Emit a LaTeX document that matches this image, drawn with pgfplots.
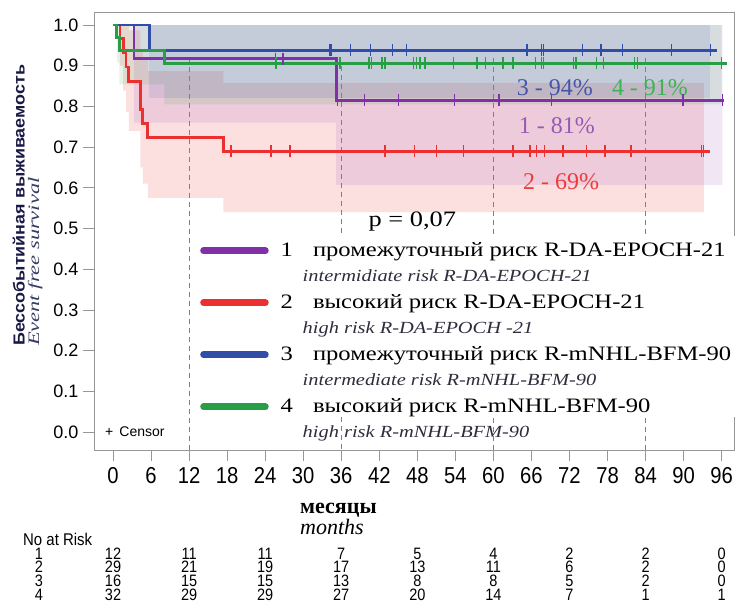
\documentclass[border=0pt]{standalone}
\usepackage{pgfplots}
\usepackage{pgfplotstable}
\pgfplotsset{compat=1.18}
\usepackage{fontspec}
\setmainfont{Liberation Serif}
\newfontfamily\sansf{Liberation Sans}
\newfontfamily\sansn[FakeStretch=0.88]{Liberation Sans}
\newfontfamily\legf[FakeStretch=1.2]{Liberation Serif}
\newfontfamily\ylbf[FakeStretch=1.12]{Liberation Sans}
\newfontfamily\ylit[FakeStretch=1.4]{Liberation Serif}
\definecolor{cPur}{RGB}{128,48,168}
\definecolor{cRed}{RGB}{236,48,48}
\definecolor{cBlu}{RGB}{48,78,168}
\definecolor{cGrn}{RGB}{40,158,70}
\definecolor{tPur}{RGB}{150,90,180}
\definecolor{tRed}{RGB}{236,60,60}
\definecolor{tBlu}{RGB}{70,85,170}
\definecolor{tGrn}{RGB}{60,180,85}
\definecolor{frm}{RGB}{150,150,150}
\definecolor{itc}{RGB}{45,45,60}
\definecolor{ylc}{RGB}{25,25,70}
\definecolor{ylic}{RGB}{55,60,100}

\pgfplotstableread{
x y n
-11.67 -0.300 1
-11.67 -0.332 2
-11.67 -0.366 3
-11.67 -0.400 4
0  -0.300 12
12 -0.300 11
24 -0.300 11
36 -0.300 7
48 -0.300 5
60 -0.300 4
72 -0.300 2
84 -0.300 2
96 -0.300 0
0  -0.332 29
12 -0.332 21
24 -0.332 19
36 -0.332 17
48 -0.332 13
60 -0.332 11
72 -0.332 6
84 -0.332 2
96 -0.332 0
0  -0.366 16
12 -0.366 15
24 -0.366 15
36 -0.366 13
48 -0.366 8
60 -0.366 8
72 -0.366 5
84 -0.366 2
96 -0.366 0
0  -0.400 32
12 -0.400 29
24 -0.400 29
36 -0.400 27
48 -0.400 20
60 -0.400 14
72 -0.400 7
84 -0.400 1
96 -0.400 1
}\risktab

\newcommand{\lgd}[3]{\begin{tabular}[t]{@{}l@{}}#1\hspace{20pt}#2\\\hspace{22pt}{\itshape\color{itc}\fontsize{17}{25}\selectfont #3}\end{tabular}}

\begin{document}
\begin{tikzpicture}[x=1pt,y=1pt]
\useasboundingbox (0,0) rectangle (740,605);
\begin{axis}[
  at={(94pt,155pt)}, anchor=south west,
  scale only axis, width=640pt, height=438pt,
  xmin=-3, xmax=97.95, ymin=-0.0442, ymax=1.032,
  clip=false,
  axis line style={frm, line width=0.8pt},
  tick style={frm, line width=0.8pt},
  tick align=outside, major tick length=11pt,
  xtick pos=lower, ytick pos=left,
  xtick={0,6,...,96},
  ytick={0,0.1,...,1.0},
  /pgf/number format/assume math mode=true,
  yticklabel={\pgfmathprintnumber[fixed,fixed zerofill,precision=1]{\tick}},
  xticklabel style={font=\sansn\fontsize{23}{23}\selectfont, yshift=-3pt},
  yticklabel style={font=\sansf\fontsize{18}{18}\selectfont, xshift=-1pt},
  xlabel={\begin{tabular}[t]{@{}l@{}}{\bfseries месяцы}\\{\itshape months}\end{tabular}},
  xlabel style={at={(rel axis cs:0.3219,-0.1119)}, anchor=north west, inner sep=0pt, font=\fontsize{22}{20}\selectfont},
  ylabel={\begin{tabular}[t]{@{}l@{}}{\ylbf\bfseries\color{ylc} Бессобытийная выживаемость}\\{\ylit\itshape\color{ylic} Event free survival}\end{tabular}},
  ylabel style={at={(rel axis cs:-0.1275,0.2374)}, anchor=north west, inner sep=0pt, font=\fontsize{16}{11}\selectfont},
  legend style={at={(axis cs:12.62,0.4816)}, anchor=north west, draw=none, fill=white,
    inner xsep=7pt, inner ysep=3pt, row sep=33pt, column sep=12pt,
    font=\legf\fontsize{20.5}{25}\selectfont,
    cells={anchor=base west}, nodes={inner sep=0pt}},
  legend image code/.code={\draw[#1, line width=6.5pt, line cap=round] (3pt,6pt) -- (65pt,6pt);},
]
% confidence bands
\addplot[forget plot, draw=none, fill=cRed, fill opacity=0.15] coordinates {
 (1.1,1) (2.5,1) (2.5,0.987) (4.3,0.987) (4.3,0.94) (4.7,0.94) (4.7,0.915) (5.5,0.915) (5.5,0.887) (17.4,0.887) (17.4,0.858) (93.2,0.858)
 (93.2,0.54) (17.4,0.54) (17.4,0.575) (5.5,0.575) (5.5,0.61) (4.7,0.61) (4.7,0.65) (4.3,0.65) (4.3,0.74) (2.5,0.74) (2.5,0.786) (2.05,0.786) (2.05,0.839) (1.6,0.839) (1.6,0.90) (1.1,0.90)} -- cycle;
\addplot[forget plot, draw=none, fill=cPur, fill opacity=0.12] coordinates {
 (3.3,1) (96.1,1) (96.1,0.607) (35.2,0.607) (35.2,0.76) (3.3,0.76)} -- cycle;
\addplot[forget plot, draw=none, fill=cGrn, fill opacity=0.12] coordinates {
 (0.6,1) (96.0,1) (96.0,0.805) (8.1,0.805) (8.1,0.854) (1.0,0.854) (1.0,0.908) (0.6,0.908)} -- cycle;
\addplot[forget plot, draw=none, fill=cBlu, fill opacity=0.12] coordinates {
 (5.7,1) (94.2,1) (94.2,0.82) (5.7,0.82)} -- cycle;
% reference lines
\addplot[forget plot, gray, line width=0.9pt, dash pattern=on 5pt off 4pt] coordinates {(12,0.92) (12,-0.0442)};
\addplot[forget plot, gray, line width=0.9pt, dash pattern=on 5pt off 4pt] coordinates {(36,0.90) (36,-0.0442)};
\addplot[forget plot, gray, line width=0.9pt, dash pattern=on 5pt off 4pt] coordinates {(60,0.92) (60,-0.0442)};
\addplot[forget plot, gray, line width=0.9pt, dash pattern=on 5pt off 4pt] coordinates {(84,0.92) (84,-0.0442)};
% curves
\addplot[cPur, line width=2.8pt, const plot, mark=none] coordinates {(0,1) (3.3,0.917) (35.2,0.815) (96.4,0.815)};
\addlegendentry{\lgd{1}{промежуточный риск R-DA-EPOCH-21}{intermidiate risk R-DA-EPOCH-21}}
\addplot[cRed, line width=2.8pt, const plot, mark=none] coordinates {(0,1) (1.1,0.966) (1.6,0.931) (2.05,0.897) (2.5,0.862) (4.3,0.793) (4.7,0.759) (5.5,0.724) (17.4,0.690) (94.2,0.690)};
\addlegendentry{\lgd{2}{высокий риск R-DA-EPOCH-21}{high risk R-DA-EPOCH -21}}
\addplot[cBlu, line width=2.8pt, const plot, mark=none] coordinates {(0,1) (5.7,0.9375) (95.2,0.9375)};
\addlegendentry{\lgd{3}{промежуточный риск R-mNHL-BFM-90}{intermediate risk R-mNHL-BFM-90}}
\addplot[cGrn, line width=2.8pt, const plot, mark=none] coordinates {(0,1) (0.6,0.969) (1.0,0.9375) (8.1,0.906) (96.8,0.906)};
\addlegendentry{\lgd{4}{высокий риск R-mNHL-BFM-90}{high risk R-mNHL-BFM-90}}
% censor marks
\addplot[forget plot, only marks, cPur, mark=|, mark size=6pt, mark options={line width=1.4pt}] coordinates {
 (25.6,0.917) (26.8,0.917) (35.4,0.815) (39.7,0.815) (45.0,0.815) (53.9,0.815) (60.9,0.815) (69.2,0.815) (89.9,0.815) (96.1,0.815)};
\addplot[forget plot, only marks, cRed, mark=|, mark size=6pt, mark options={line width=1.4pt}] coordinates {
 (18.6,0.69) (24.9,0.69) (27.9,0.69) (42.9,0.69) (47.6,0.69) (51.0,0.69) (55.3,0.69) (63.1,0.69) (65.8,0.69) (66.8,0.69) (68.1,0.69) (71.0,0.69) (74.7,0.69) (77.6,0.69) (81.7,0.69) (92.8,0.69) (93.1,0.69)};
\addplot[forget plot, only marks, cBlu, mark=|, mark size=6pt, mark options={line width=1.4pt}] coordinates {
 (34.2,0.9375) (34.5,0.9375) (37.5,0.9375) (40.6,0.9375) (44.1,0.9375) (46.3,0.9375) (65.3,0.9375) (67.6,0.9375) (67.9,0.9375) (74.1,0.9375) (77.0,0.9375) (80.4,0.9375) (88.1,0.9375) (94.2,0.9375)};
\addplot[forget plot, only marks, cGrn, mark=|, mark size=6pt, mark options={line width=1.4pt}] coordinates {
 (25.6,0.906) (25.8,0.906) (35.8,0.906) (40.4,0.906) (40.8,0.906) (42.4,0.906) (42.9,0.906) (47.4,0.906) (47.9,0.906) (48.4,0.906) (49.2,0.906) (53.7,0.906) (57.4,0.906) (58.8,0.906) (61.5,0.906) (63.1,0.906) (66.6,0.906) (67.6,0.906) (67.9,0.906) (72.6,0.906) (73.0,0.906) (76.3,0.906) (77.4,0.906) (82.3,0.906) (82.7,0.906) (96.0,0.906)};
% labels
\node[tBlu, font=\fontsize{24}{24}\selectfont] at (axis cs:69.7,0.845) {3 - 94\%};
\node[tGrn, font=\fontsize{24}{24}\selectfont] at (axis cs:84.7,0.845) {4 - 91\%};
\node[tPur, font=\fontsize{24}{24}\selectfont] at (axis cs:70.0,0.752) {1 - 81\%};
\node[tRed, font=\fontsize{24}{24}\selectfont] at (axis cs:70.7,0.614) {2 - 69\%};
\node[font=\legf\fontsize{22}{22}\selectfont] at (axis cs:47.2,0.516) {p = 0,07};
\node[anchor=west, inner sep=0pt, font=\sansf\fontsize{14}{14}\selectfont] at (axis cs:-1.26,0.0) {+\hspace{6pt}Censor};
% number at risk
\node[anchor=west, inner sep=0pt, font=\sansn\fontsize{17}{17}\selectfont] at (axis cs:-14.2,-0.263) {No at Risk};
\addplot[forget plot, draw=none, mark=none, nodes near coords, point meta=explicit symbolic,
  nodes near coords style={anchor=center, inner sep=0pt, black, font=\sansn\fontsize{16.5}{16.5}\selectfont}]
  table[x=x, y=y, meta=n] {\risktab};
\end{axis}
\end{tikzpicture}
\end{document}
